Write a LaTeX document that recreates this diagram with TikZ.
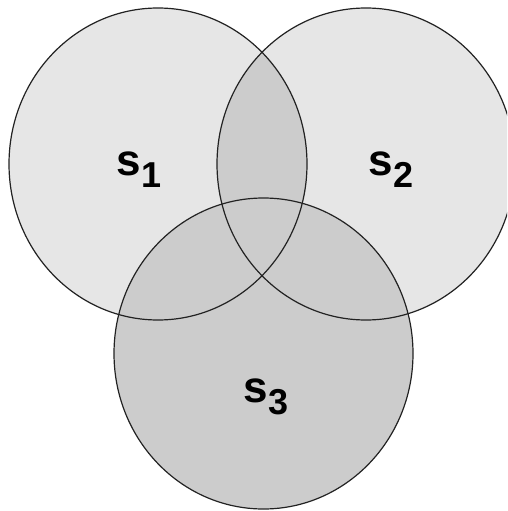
\documentclass[tikz,border=0pt]{standalone}
\usepackage{fontspec}
\setmainfont{Liberation Sans}
\definecolor{lightfill}{HTML}{E6E6E6}
\definecolor{darkfill}{HTML}{CCCCCC}
\definecolor{edge}{HTML}{222222}
\tikzset{
  setline/.style={draw=edge, line width=1.2pt},
  setlabel/.style={anchor=base west, inner sep=0pt, text=black},
}
\newcommand{\setname}[1]{{\fontsize{44}{44}\selectfont\bfseries s}\kern1pt\raisebox{-12pt}{\fontsize{36}{36}\selectfont\bfseries #1}}
\begin{document}
\begin{tikzpicture}[x=1pt, y=-1pt]
\useasboundingbox (0,0) rectangle (507,511);
\clip (0,0) rectangle (507,511);
% fills
\fill[lightfill] (158,164) ellipse [x radius=149, y radius=156];
\fill[lightfill] (366,164) ellipse [x radius=149, y radius=156];
\begin{scope}
  \clip (158,164) ellipse [x radius=149, y radius=156];
  \fill[darkfill] (366,164) ellipse [x radius=149, y radius=156];
\end{scope}
\fill[darkfill] (263.5,353.5) ellipse [x radius=149.5, y radius=155.5];
% outlines
\draw[setline] (158,164) ellipse [x radius=149, y radius=156];
\draw[setline] (366,164) ellipse [x radius=149, y radius=156];
\draw[setline] (263.5,353.5) ellipse [x radius=149.5, y radius=155.5];
% labels
\node[setlabel] (s1) at (116,175) {\setname{1}};
\node[setlabel] (s2) at (368,175) {\setname{2}};
\node[setlabel] (s3) at (243,402) {\setname{3}};
\end{tikzpicture}
\end{document}
